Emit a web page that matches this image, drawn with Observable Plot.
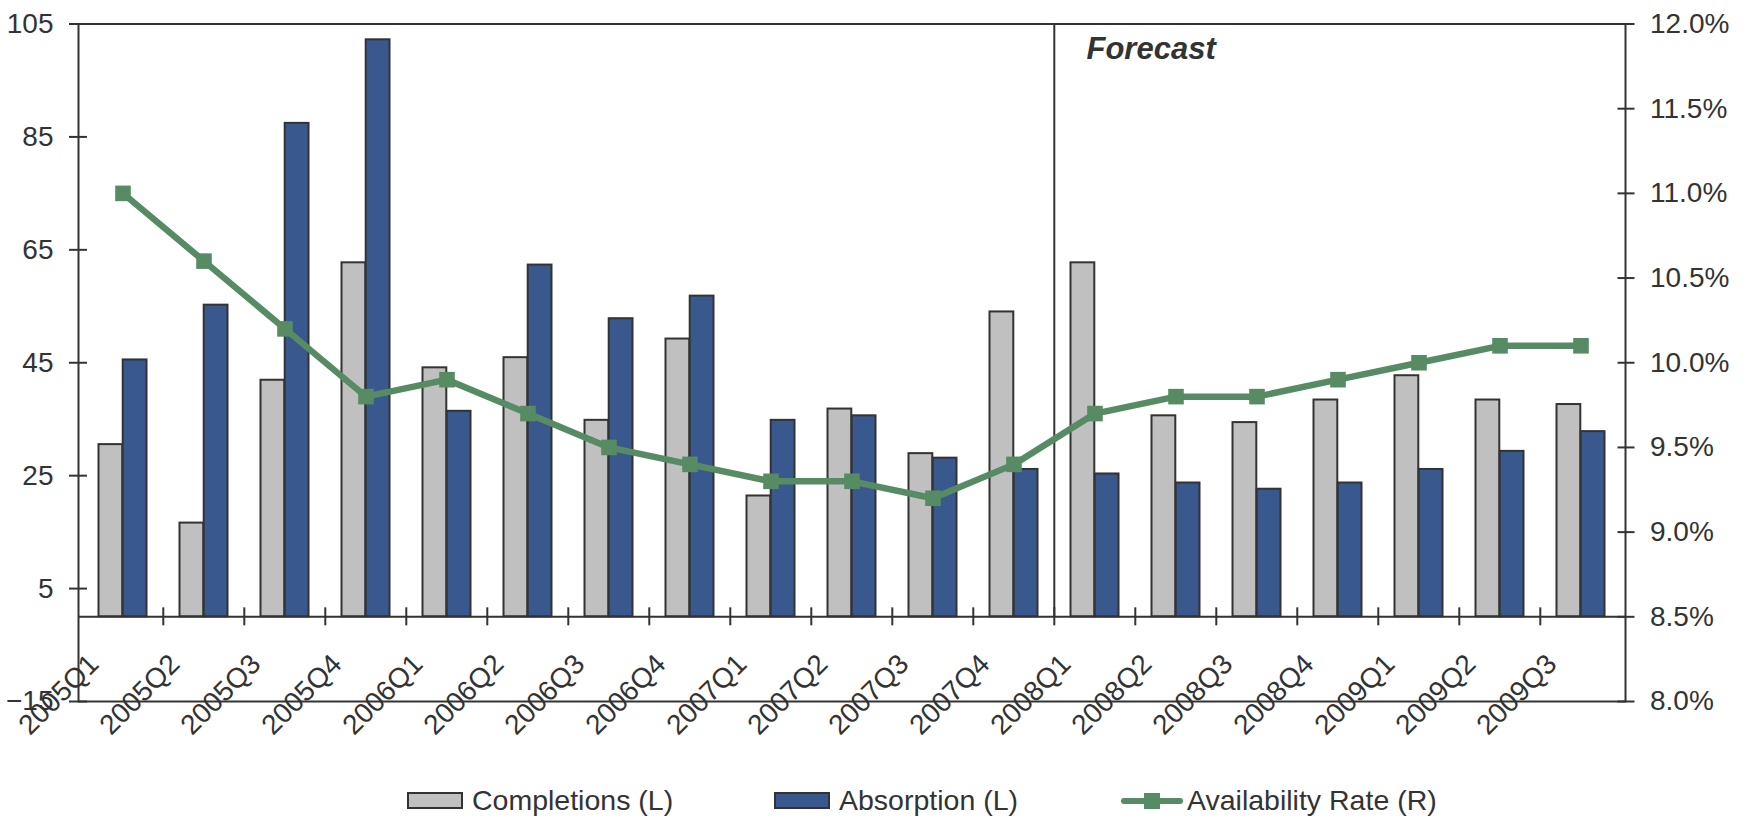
<!DOCTYPE html>
<html>
<head>
<meta charset="utf-8">
<script src="https://cdn.jsdelivr.net/npm/d3@7"></script>
<script src="https://cdn.jsdelivr.net/npm/@observablehq/plot@0.6"></script>
<style>
  html, body { margin: 0; padding: 0; background: #fff; }
  body { font-family: "Liberation Sans", Arial, sans-serif; width: 1750px; }
  #legend { position: relative; width: 1750px; height: 50px; color: #333; font-size: 28.5px; }
  #legend .sw { position: absolute; top: 24px; width: 52px; height: 13px; border: 2px solid #333; }
  #legend .lt { position: absolute; top: 18px; line-height: 1; white-space: nowrap; }
  #legend .ln { position: absolute; top: 30px; width: 62px; height: 6px; border-radius: 3px; }
  #legend .mk { position: absolute; top: 25px; width: 16px; height: 16px; }
</style>
</head>
<body>
<div id="chart"></div>
<div id="legend"></div>
<script>
// ---- data ----
const categories = ["2005Q1","2005Q2","2005Q3","2005Q4","2006Q1","2006Q2","2006Q3","2006Q4",
  "2007Q1","2007Q2","2007Q3","2007Q4","2008Q1","2008Q2","2008Q3","2008Q4","2009Q1","2009Q2","2009Q3"];
const completions = [30.5,16.6,41.9,62.7,44.1,45.9,34.8,49.2,21.4,36.8,28.9,54.0,62.7,35.6,34.4,38.4,42.7,38.4,37.6];
const absorption  = [45.5,55.2,87.4,102.2,36.4,62.3,52.8,56.8,34.8,35.6,28.1,26.1,25.3,23.7,22.6,23.7,26.1,29.3,32.8];
const availability = [11.0,10.6,10.2,9.8,9.9,9.7,9.5,9.4,9.3,9.3,9.2,9.4,9.7,9.8,9.8,9.9,10.0,10.1,10.1];
const leftTicks = [-15,5,25,45,65,85,105];
const rightTicks = [8.0,8.5,9.0,9.5,10.0,10.5,11.0,11.5,12.0];
const seriesNames = ["Completions (L)","Absorption (L)","Availability Rate (R)"];
const forecastStart = "2008Q1";
const forecastLabel = "Forecast";

// ---- layout / style ----
const W = 1750, H = 768;
const mL = 78, mR = 125, mT = 23.5, mB = 67;
const bw = (W - mL - mR) / categories.length;
const ink = "#333";
const grey = "#c0c0c0", blue = "#39598e", green = "#578b63";
const toLeft = r => (r - 8.5) * 30;       // right-axis % -> left units
const fromLeft = v => v / 30 + 8.5;

const rows = categories.map((c, i) => ({cat: c, completions: completions[i], absorption: absorption[i], rate: availability[i]}));

const chart = Plot.plot({
  width: W, height: H,
  marginLeft: mL, marginRight: mR, marginTop: mT, marginBottom: mB,
  style: {fontFamily: "'Liberation Sans', Arial, sans-serif", fontSize: "28px", color: ink, background: "#fff", overflow: "visible"},
  x: {type: "band", domain: categories, padding: 0},
  y: {domain: [-15, 105]},
  marks: [
    Plot.barY(rows, {x: "cat", y1: 0, y2: "completions", fill: grey, stroke: ink, strokeWidth: 2, insetLeft: 16.5, insetRight: bw / 2}),
    Plot.barY(rows, {x: "cat", y1: 0, y2: "absorption", fill: blue, stroke: ink, strokeWidth: 2, insetLeft: bw / 2, insetRight: 16.5}),
    Plot.frame({stroke: ink, strokeWidth: 2}),
    Plot.ruleY([0], {stroke: ink, strokeWidth: 2}),
    Plot.ruleX(categories.slice(1), {x: d => d, y1: 0, y2: 0, insetTop: -9, insetBottom: -9, dx: -bw / 2, stroke: ink, strokeWidth: 2}),
    Plot.ruleX([forecastStart], {x: d => d, y1: 0, y2: 105, dx: -bw / 2, stroke: ink, strokeWidth: 2}),
    Plot.text([{cat: forecastStart, label: forecastLabel}], {x: "cat", y: () => 105, text: "label", textAnchor: "start", lineAnchor: "top", dx: -8.5, dy: 12.5, fontSize: 31, fontWeight: "bold", fontStyle: "italic", fill: ink}),
    Plot.line(rows, {x: "cat", y: d => toLeft(d.rate), stroke: green, strokeWidth: 6.5}),
    Plot.dot(rows, {x: "cat", y: d => toLeft(d.rate), symbol: "square", r: 8.8, fill: green, stroke: "none"}),
    Plot.axisY(leftTicks, {anchor: "left", tickSize: 18, dx: 9, tickPadding: 16, fontSize: 28, label: null, color: ink, strokeWidth: 2}),
    Plot.axisY(rightTicks.map(toLeft), {anchor: "right", tickFormat: d => fromLeft(d).toFixed(1) + "%", tickSize: 17, dx: -8.5, tickPadding: 16, fontSize: 28, label: null, color: ink, strokeWidth: 2}),
    Plot.axisX({anchor: "bottom", tickSize: 0, tickRotate: -45, tickPadding: 0, dx: -29, dy: -42, fontSize: 28, label: null, color: ink})
  ]
});
document.getElementById("chart").appendChild(chart);

// ---- legend ----
const lg = document.getElementById("legend");
const items = [
  {name: seriesNames[0], kind: "box", color: grey, x: 407, tx: 472},
  {name: seriesNames[1], kind: "box", color: blue, x: 774, tx: 839},
  {name: seriesNames[2], kind: "line", color: green, x: 1121, tx: 1187}
];
for (const it of items) {
  if (it.kind === "box") {
    const s = document.createElement("div");
    s.className = "sw"; s.style.left = it.x + "px"; s.style.background = it.color;
    lg.appendChild(s);
  } else {
    const l = document.createElement("div");
    l.className = "ln"; l.style.left = it.x + "px"; l.style.background = it.color;
    lg.appendChild(l);
    const m = document.createElement("div");
    m.className = "mk"; m.style.left = (it.x + 23) + "px"; m.style.background = it.color;
    lg.appendChild(m);
  }
  const t = document.createElement("div");
  t.className = "lt"; t.style.left = it.tx + "px"; t.textContent = it.name;
  lg.appendChild(t);
}
</script>
</body>
</html>
